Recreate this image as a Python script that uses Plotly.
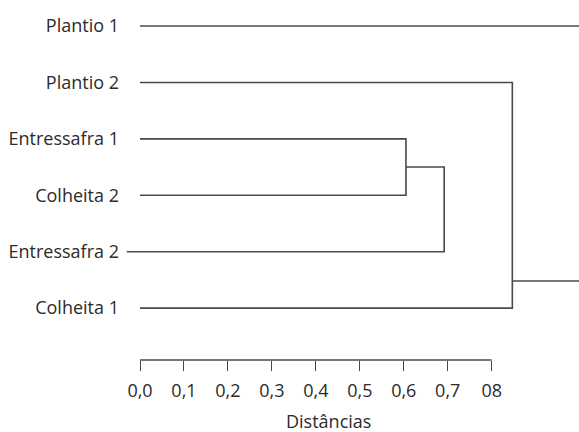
import plotly.graph_objects as go

# Leaves (top to bottom)
labels = ["Plantio 1", "Plantio 2", "Entressafra 1", "Colheita 2", "Entressafra 2", "Colheita 1"]
leaf_start = [0.0, 0.0, 0.0, 0.0, -0.03, 0.0]

# Merge distances
merge1_height = 0.605   # Entressafra 1 + Colheita 2
merge2_height = 0.692   # (merge1) + Entressafra 2
merge3_height = 0.847   # Plantio 2 + Colheita 1
right_end = 1.0         # branches running off the right edge

tick_vals = [0.0, 0.1, 0.2, 0.3, 0.4, 0.5, 0.6, 0.7, 0.8]
tick_text = ["0,0", "0,1", "0,2", "0,3", "0,4", "0,5", "0,6", "0,7", "08"]
x_title = "Distâncias"

LINE = "#4a4a4a"
TEXT = "#2b2b2b"
FONT = "Open Sans"

y = list(range(len(labels)))
fig = go.Figure()

def seg(xs, ys):
    fig.add_trace(go.Scatter(x=xs, y=ys, mode="lines",
                             line=dict(color=LINE, width=1.6),
                             hoverinfo="skip", showlegend=False))

# merge 1: Entressafra 1 (2) & Colheita 2 (3)
seg([leaf_start[2], merge1_height, merge1_height, leaf_start[3]], [y[2], y[2], y[3], y[3]])
m1_y = (y[2] + y[3]) / 2
# merge 2: merge1 & Entressafra 2 (4)
seg([merge1_height, merge2_height, merge2_height, leaf_start[4]], [m1_y, m1_y, y[4], y[4]])
# merge 3: Plantio 2 (1) & Colheita 1 (5)
seg([leaf_start[1], merge3_height, merge3_height, leaf_start[5]], [y[1], y[1], y[5], y[5]])
m3_y = y[1] + (y[5] - y[1]) * 0.88
seg([merge3_height, right_end], [m3_y, m3_y])
# Plantio 1 single long branch
seg([leaf_start[0], right_end], [y[0], y[0]])

# axis baseline spanning only the ticked range
fig.add_shape(type="line", xref="x", yref="paper",
              x0=min(tick_vals), x1=max(tick_vals), y0=0, y1=0,
              line=dict(color=LINE, width=1.3))

L = 124
fig.add_annotation(text=x_title, xref="paper", yref="paper",
                   x=(328 - L) / (579 - L), y=0, xanchor="center", yanchor="middle",
                   yshift=-61, showarrow=False, font=dict(size=18, color=TEXT))

fig.update_layout(
    width=579, height=432,
    margin=dict(l=L, r=0, t=0, b=72),
    paper_bgcolor="white", plot_bgcolor="white",
    font=dict(family=FONT, color=TEXT, size=18),
    xaxis=dict(range=[(L - 140) / 439.6, 439 / 439.6], tickvals=tick_vals, ticktext=tick_text,
               ticks="outside", ticklen=10, tickwidth=1.2, tickcolor=LINE,
               showline=False, showgrid=False, zeroline=False,
               tickfont=dict(size=18, color=TEXT), ticklabelstandoff=4),
    yaxis=dict(range=[5.92, -0.461], tickvals=y, ticktext=labels,
               showline=False, showgrid=False, zeroline=False, ticks="",
               tickfont=dict(size=18, color=TEXT), ticklabelstandoff=4),
)

fig.write_html("out.html", config={"displayModeBar": False},
               post_script="document.body.style.margin='0';")
